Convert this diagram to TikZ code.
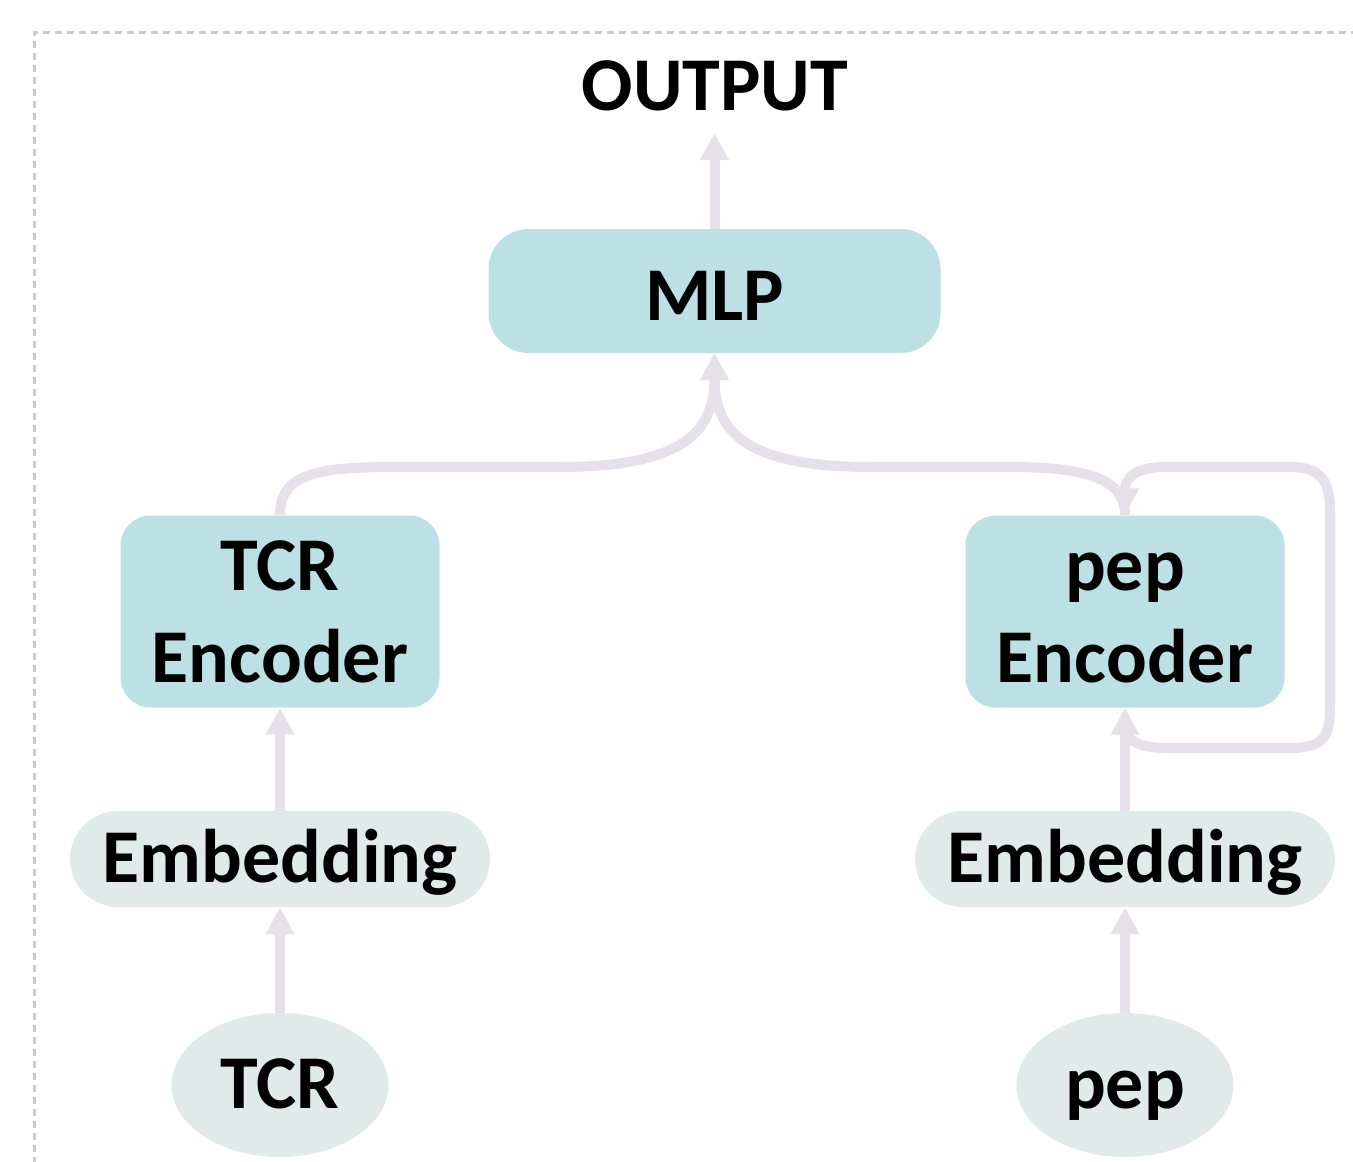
\documentclass[tikz,border=0pt]{standalone}
\usepackage{fontspec}
\setmainfont{Carlito}
\usetikzlibrary{arrows.meta,shapes.geometric}
\definecolor{arrowc}{HTML}{E6E0E9}
\definecolor{encfill}{HTML}{BDE0E5}
\definecolor{embfill}{HTML}{E0EBE9}
\definecolor{borderc}{HTML}{CCCCCC}
\begin{document}
\begin{tikzpicture}[x=1pt,y=-1pt,
  lbl/.style={font=\fontsize{76pt}{92pt}\selectfont\bfseries, text=black, inner sep=0pt},
  encbox/.style={lbl, rectangle, rounded corners=30pt, fill=encfill, minimum width=319pt, minimum height=192pt, align=center, text height=141pt, text depth=0pt},
  mlpbox/.style={lbl, rectangle, rounded corners=40pt, fill=encfill, minimum width=452pt, minimum height=124pt, text height=58pt, text depth=0pt},
  embbox/.style={lbl, rectangle, rounded corners=48pt, fill=embfill, minimum width=420pt, minimum height=96pt, text height=46pt, text depth=0pt},
  inbox/.style={lbl, ellipse, fill=embfill, minimum width=217pt, minimum height=144pt, text height=46pt, text depth=0pt},
  conn/.style={draw=arrowc, line width=10pt, -{Triangle[length=27pt,width=27pt]}},
]
\useasboundingbox (0,0) rectangle (1353,1162);
\begin{scope}
  \clip (0,0) rectangle (1353,1162);
  \draw[borderc, line width=3pt, dash pattern=on 7pt off 5pt] (34.5,1200) -- (34.5,32) -- (1400,32);
\end{scope}

\coordinate (outtip) at (714.5,133);
\coordinate (lp) at (1125,722);

\node[lbl, anchor=base] (out) at (715,110) {OUTPUT};
\node[mlpbox] (mlp) at (714.5,291) {MLP};
\node[encbox] (tcrenc) at (280,611.5) {TCR\\Encoder};
\node[encbox] (pepenc) at (1125,611.5) {pep\\Encoder};
\node[embbox] (emb1) at (280,859) {Embedding};
\node[embbox] (emb2) at (1125,859) {Embedding};
\node[inbox] (tcr) at (280,1085) {TCR};
\node[inbox] (pep) at (1125,1085) {pep};

\draw[conn] (mlp.north) -- (outtip);
\draw[conn] (tcr.north) -- (emb1.south);
\draw[conn] (emb1.north) -- (tcrenc.south);
\draw[conn] (pep.north) -- (emb2.south);
\draw[conn] (emb2.north) -- (pepenc.south);

\draw[conn] (tcrenc.north) .. controls (280,472) and (320,467) .. (400,467)
  -- (560,467) .. controls (685,467) and (714.5,430) .. (mlp.south);
\draw[conn] (pepenc.north) .. controls (1125,480) and (1090,467) .. (1010,467)
  -- (870,467) .. controls (744,467) and (714.5,430) .. (mlp.south);

\draw[conn] (lp) .. controls (1125,743) and (1140,748) .. (1170,748)
  -- (1290,748) .. controls (1326,748) and (1330,735) .. (1330,705)
  -- (1330,510) .. controls (1330,478) and (1318,467) .. (1290,467)
  -- (1165,467) .. controls (1135,467) and (1125,478) .. (pepenc.north);
\end{tikzpicture}
\end{document}
